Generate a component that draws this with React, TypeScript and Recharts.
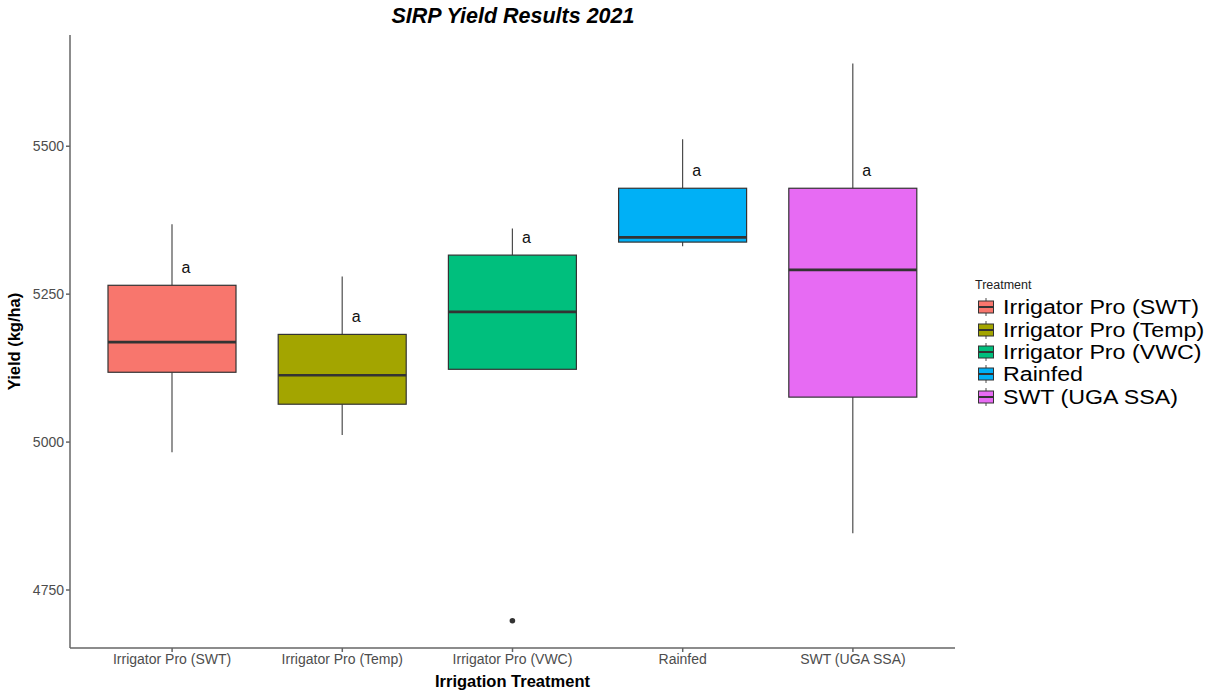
import React from 'react';
import { ComposedChart, Bar, XAxis, YAxis } from 'recharts';

// treatments and their box stats (kg/ha)
const treatments = ['Irrigator Pro (SWT)', 'Irrigator Pro (Temp)', 'Irrigator Pro (VWC)', 'Rainfed', 'SWT (UGA SSA)'];
const colors = ['#F8766D', '#A3A500', '#00BF7D', '#00B0F6', '#E76BF3'];
const whiskerLow = [4983, 5012, 5123, 5331, 4846];
const q1 = [5118, 5064, 5123, 5338, 5076];
const median = [5169, 5113, 5220, 5346, 5291];
const q3 = [5265, 5182, 5316, 5429, 5429];
const whiskerHigh = [5368, 5280, 5361, 5512, 5640];
const outliers: number[][] = [[], [], [4698], [], []];
const letters = ['a', 'a', 'a', 'a', 'a'];
const yTicks = [4750, 5000, 5250, 5500];

const FONT = '"Liberation Sans", Arial, sans-serif';

const data = treatments.map((name, i) => {
  const lo = Math.min(whiskerLow[i], ...outliers[i]);
  return {
    name,
    range: [lo, whiskerHigh[i]],
    lo,
    hi: whiskerHigh[i],
    whiskerLow: whiskerLow[i],
    q1: q1[i],
    median: median[i],
    q3: q3[i],
    outliers: outliers[i],
    letter: letters[i],
    color: colors[i],
  };
});

const BoxShape = (props: any) => {
  const { x, y, width, height, payload } = props;
  const p = payload;
  const span = p.hi - p.lo || 1;
  const py = (v: number) => y + ((p.hi - v) / span) * height;
  const cx = x + width / 2;
  return (
    <g>
      <line x1={cx} x2={cx} y1={py(p.hi)} y2={py(p.q3)} stroke="#4d4d4d" strokeWidth={1.2} />
      <line x1={cx} x2={cx} y1={py(p.q1)} y2={py(p.whiskerLow)} stroke="#4d4d4d" strokeWidth={1.2} />
      <rect x={x} y={py(p.q3)} width={width} height={py(p.q1) - py(p.q3)} fill={p.color} stroke="#333" strokeWidth={1.2} />
      <line x1={x} x2={x + width} y1={py(p.median)} y2={py(p.median)} stroke="#333" strokeWidth={2.6} />
      {p.outliers.map((o: number, k: number) => (
        <circle key={k} cx={cx} cy={py(o)} r={2.8} fill="#333" />
      ))}
      <text x={cx + 14} y={py(p.q3 + 30)} dy="0.35em" textAnchor="middle" fontSize={16} fontFamily={FONT} fill="#111">
        {p.letter}
      </text>
    </g>
  );
};

const LegendKey = ({ color }: { color: string }) => (
  <svg width={18} height={20} style={{ display: 'block' }}>
    <line x1={9} x2={9} y1={1} y2={4} stroke="#4d4d4d" />
    <line x1={9} x2={9} y1={16} y2={19} stroke="#4d4d4d" />
    <rect x={1.5} y={4} width={15} height={12} fill={color} stroke="#333" strokeWidth={1} />
    <line x1={1.5} x2={16.5} y1={10} y2={10} stroke="#333" strokeWidth={2} />
  </svg>
);

export default function App() {
  return (
    <div style={{ position: 'absolute', left: 0, top: 0, width: 1209, height: 691, background: '#fff', fontFamily: FONT }}>
      <div style={{ position: 'absolute', left: 0, top: 4, width: 1026, textAlign: 'center', fontSize: 21.5, fontWeight: 'bold', fontStyle: 'italic', color: '#000' }}>
        SIRP Yield Results 2021
      </div>
      <ComposedChart width={1209} height={691} data={data} margin={{ top: 35, right: 254, left: 10, bottom: 0 }} barCategoryGap={0}>
        <XAxis
          dataKey="name"
          type="category"
          height={43}
          padding={{ left: 17, right: 17 }}
          stroke="#666"
          strokeWidth={1.5}
          tickSize={4}
          tick={{ fontSize: 14, fill: '#4d4d4d', fontFamily: FONT }}
          label={{ value: 'Irrigation Treatment', position: 'insideBottom', offset: 4, fontSize: 16.5, fontWeight: 'bold', fill: '#000', fontFamily: FONT }}
        />
        <YAxis
          type="number"
          domain={[4652, 5688]}
          ticks={yTicks}
          width={60}
          stroke="#666"
          strokeWidth={1.5}
          tickSize={4}
          tick={{ fontSize: 14, fill: '#4d4d4d', fontFamily: FONT }}
          label={{ value: 'Yield (kg/ha)', angle: -90, position: 'insideLeft', offset: 4, fontSize: 16.5, fontWeight: 'bold', fill: '#000', fontFamily: FONT, style: { textAnchor: 'middle' } }}
        />
        <Bar dataKey="range" barSize={128} shape={<BoxShape />} isAnimationActive={false} />
      </ComposedChart>
      <div style={{ position: 'absolute', left: 975, top: 278, fontSize: 12.5, color: '#222' }}>Treatment</div>
      <div style={{ position: 'absolute', left: 977, top: 296 }}>
        {treatments.map((t, i) => (
          <div key={t} style={{ display: 'flex', alignItems: 'center', height: 22.4 }}>
            <LegendKey color={colors[i]} />
            <span style={{ marginLeft: 8, fontSize: 20, color: '#000', lineHeight: '22px', whiteSpace: 'nowrap', display: 'inline-block', transform: 'scaleX(1.16)', transformOrigin: 'left center' }}>{t}</span>
          </div>
        ))}
      </div>
    </div>
  );
}
